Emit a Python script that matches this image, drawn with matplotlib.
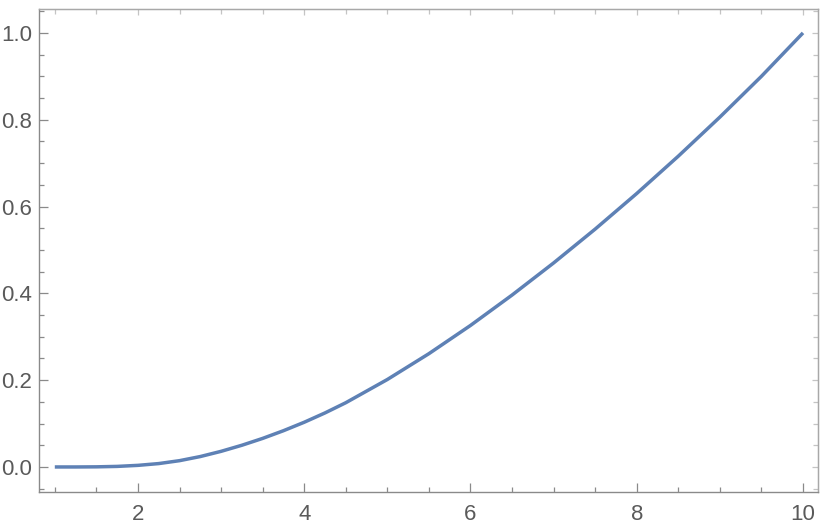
import matplotlib
matplotlib.use("Agg")
import matplotlib.pyplot as plt
from matplotlib.ticker import MultipleLocator, NullFormatter

x_vals = [1.0, 1.25, 1.5, 1.75, 2.0, 2.25, 2.5, 2.75, 3.0, 3.25, 3.5, 3.75, 4.0, 4.25, 4.5,
          5.0, 5.5, 6.0, 6.5, 7.0, 7.5, 8.0, 8.5, 9.0, 9.5, 10.0]
y_vals = [0.0, 0.0, 0.0003, 0.0013, 0.0037, 0.0078, 0.0145, 0.024, 0.036, 0.050, 0.0658, 0.0835, 0.103, 0.1245, 0.148,
          0.2015, 0.261, 0.326, 0.396, 0.470, 0.548, 0.630, 0.716, 0.806, 0.900, 1.0]

x_major = [2, 4, 6, 8, 10]
y_major = [0.0, 0.2, 0.4, 0.6, 0.8, 1.0]
y_labels = ["0.0", "0.2", "0.4", "0.6", "0.8", "1.0"]

plt.rcParams['font.family'] = ['Liberation Sans', 'DejaVu Sans']

fig = plt.figure(figsize=(8.30, 5.31), dpi=100)
ax = fig.add_axes([0.047, 0.074, 0.9385, 0.909])

ax.plot(x_vals, y_vals, color='#5E81B5', lw=2.5, solid_capstyle='butt', solid_joinstyle='round')

ax.set_xlim(0.81, 10.18)
ax.set_ylim(-0.057, 1.055)

frame_col = '#8a8a8a'
label_col = '#5a5a5a'
for s in ax.spines.values():
    s.set_color(frame_col)
    s.set_linewidth(1.0)
ax.spines['top'].set_color('#a8a8a8')
ax.spines['right'].set_color('#a8a8a8')

ax.set_xticks(x_major)
ax.set_xticklabels([str(v) for v in x_major])
ax.set_yticks(y_major)
ax.set_yticklabels(y_labels)
ax.xaxis.set_minor_locator(MultipleLocator(0.5))
ax.yaxis.set_minor_locator(MultipleLocator(0.05))

ax.tick_params(which='both', direction='in', color=frame_col, width=0.9,
               labelcolor=label_col, labelsize=16, top=False, right=False)
ax.tick_params(which='major', length=6.5)
ax.tick_params(which='minor', length=3.6)
ax.tick_params(axis='x', which='major', pad=8.5)
ax.tick_params(axis='y', which='major', pad=5)

# mirrored lighter ticks on top and right
secx = ax.secondary_xaxis('top')
secx.set_xticks(x_major)
secx.xaxis.set_minor_locator(MultipleLocator(0.5))
secx.xaxis.set_major_formatter(NullFormatter())
secx.tick_params(which='both', direction='in', color='#c4c4c4', width=0.9)
secx.tick_params(which='major', length=4.3)
secx.tick_params(which='minor', length=3.4)
secx.spines['top'].set_color('#a8a8a8')

secy = ax.secondary_yaxis('right')
secy.set_yticks(y_major)
secy.yaxis.set_minor_locator(MultipleLocator(0.05))
secy.yaxis.set_major_formatter(NullFormatter())
secy.tick_params(which='both', direction='in', color='#c4c4c4', width=0.9)
secy.tick_params(which='major', length=4.3)
secy.tick_params(which='minor', length=3.4)
secy.spines['right'].set_color('#a8a8a8')

fig.savefig('out.png', dpi=100)
